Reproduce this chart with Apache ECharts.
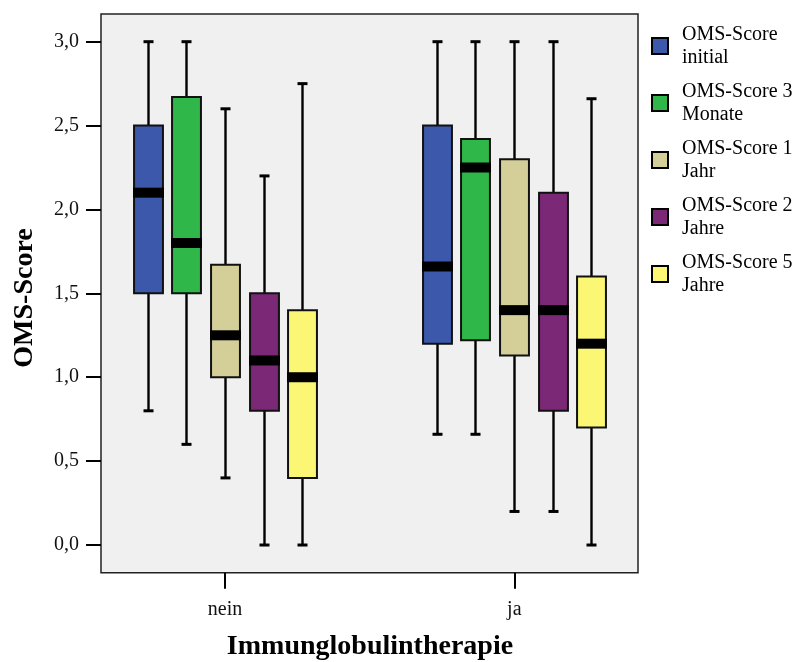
<!DOCTYPE html>
<html>
<head>
<meta charset="utf-8">
<script src="https://cdn.jsdelivr.net/npm/echarts@6/dist/echarts.min.js"></script>
<style>
  html, body { margin: 0; padding: 0; background: #fff; }
  #chart { width: 801px; height: 662px; }
</style>
</head>
<body>
<div id="chart"></div>
<script>
// groups on the x axis
const groups = ['nein', 'ja'];
const yTicks = [0, 0.5, 1, 1.5, 2, 2.5, 3];

// one array per series: [low, q1, median, q3, high] for each group
const seriesNames = ['OMS-Score initial', 'OMS-Score 3 Monate', 'OMS-Score 1 Jahr', 'OMS-Score 2 Jahre', 'OMS-Score 5 Jahre'];
const initial = [[0.8, 1.5, 2.1, 2.5, 3.0], [0.66, 1.2, 1.66, 2.5, 3.0]];
const monate3 = [[0.6, 1.5, 1.8, 2.67, 3.0], [0.66, 1.22, 2.25, 2.42, 3.0]];
const jahr1 = [[0.4, 1.0, 1.25, 1.67, 2.6], [0.2, 1.13, 1.4, 2.3, 3.0]];
const jahre2 = [[0.0, 0.8, 1.1, 1.5, 2.2], [0.2, 0.8, 1.4, 2.1, 3.0]];
const jahre5 = [[0.0, 0.4, 1.0, 1.4, 2.75], [0.0, 0.7, 1.2, 1.6, 2.66]];
const allStats = [initial, monate3, jahr1, jahre2, jahre5];
const colors = ['#3c58aa', '#2fb849', '#d4cf98', '#7b2877', '#fbf775'];

const font = 'Liberation Serif';
const slot = 0.1333;   // distance between boxes in a group (x units)
const boxW = 0.1;      // box width (x units)

function renderBox(params, api) {
  const off = (params.seriesIndex - 2) * slot;
  const x = api.value(0) + off;
  const low = api.coord([x, api.value(1)]);
  const q1 = api.coord([x, api.value(2)]);
  const med = api.coord([x, api.value(3)]);
  const q3 = api.coord([x, api.value(4)]);
  const high = api.coord([x, api.value(5)]);
  const w = api.size([boxW, 0])[0];
  const cx = Math.round(high[0]) + 0.5;
  const capW = 10;
  const color = colors[params.seriesIndex];
  return {
    type: 'group',
    children: [
      { type: 'line', shape: { x1: cx, y1: high[1], x2: cx, y2: low[1] }, style: { stroke: '#000', lineWidth: 2.4 } },
      { type: 'line', shape: { x1: cx - capW / 2, y1: high[1], x2: cx + capW / 2, y2: high[1] }, style: { stroke: '#000', lineWidth: 3 } },
      { type: 'line', shape: { x1: cx - capW / 2, y1: low[1], x2: cx + capW / 2, y2: low[1] }, style: { stroke: '#000', lineWidth: 3 } },
      { type: 'rect', shape: { x: cx - w / 2, y: q3[1], width: w, height: q1[1] - q3[1] }, style: { fill: color, stroke: '#111', lineWidth: 2 } },
      { type: 'rect', shape: { x: cx - w / 2 - 1, y: med[1] - 5, width: w + 2, height: 10 }, style: { fill: '#000' } }
    ]
  };
}

const series = seriesNames.map((name, i) => ({
  name: name,
  type: 'custom',
  xAxisIndex: 0,
  yAxisIndex: 0,
  renderItem: renderBox,
  itemStyle: { color: colors[i] },
  encode: { x: 0, y: [1, 2, 3, 4, 5] },
  data: allStats[i].map((s, g) => [g].concat(s))
}));

const chart = echarts.init(document.getElementById('chart'));
chart.setOption({
  animation: false,
  backgroundColor: '#fff',
  textStyle: { fontFamily: font },
  grid: [
    { left: 101, top: 14, right: 163, bottom: 89.3, show: true, backgroundColor: '#f0f0f0', borderColor: '#222', borderWidth: 1.5 },
    { left: 101, top: 41.7, width: 100, height: 503.3, show: false },
    { left: 225, width: 289.3, top: 14, bottom: 89.3, show: false }
  ],
  xAxis: [
    { gridIndex: 0, type: 'value', min: -0.429, max: 1.429, show: false },
    { gridIndex: 1, type: 'value', show: false },
    {
      gridIndex: 2, type: 'category', data: groups, boundaryGap: false,
      axisLine: { show: false },
      axisTick: { show: true, length: 16, lineStyle: { color: '#000', width: 2 } },
      axisLabel: { margin: 27, fontSize: 20, color: '#111', fontFamily: font },
      splitLine: { show: false }
    }
  ],
  yAxis: [
    { gridIndex: 0, type: 'value', min: -0.165, max: 3.165, show: false },
    {
      gridIndex: 1, type: 'value', min: yTicks[0], max: yTicks[yTicks.length - 1], interval: 0.5,
      axisLine: { show: false },
      axisTick: { show: true, length: 15, lineStyle: { color: '#000', width: 2 } },
      axisLabel: { margin: 22, fontSize: 20, color: '#111', fontFamily: font,
        formatter: v => v.toFixed(1).replace('.', ',') },
      splitLine: { show: false }
    },
    { gridIndex: 2, type: 'value', show: false }
  ],
  legend: {
    orient: 'vertical',
    left: 651,
    top: 23,
    padding: 0,
    itemGap: 11,
    itemWidth: 16,
    itemHeight: 16,
    icon: 'rect',
    selectedMode: false,
    data: seriesNames.map((n, i) => ({ name: n, itemStyle: { color: colors[i], borderColor: '#000', borderWidth: 2 } })),
    formatter: n => n.replace(/ (\S+)$/, '\n$1'),
    textStyle: { fontFamily: font, fontSize: 20, lineHeight: 23, color: '#000', padding: [0, 0, 0, 9] }
  },
  graphic: [
    {
      type: 'text', x: 370, y: 647,
      style: { text: 'Immunglobulintherapie', font: 'bold 28px "Liberation Serif"', fill: '#000', align: 'center', verticalAlign: 'middle' }
    },
    {
      type: 'text', x: 25, y: 298, rotation: Math.PI / 2,
      style: { text: 'OMS-Score', font: 'bold 28px "Liberation Serif"', fill: '#000', align: 'center', verticalAlign: 'middle' }
    }
  ],
  series: series
});
</script>
</body>
</html>
